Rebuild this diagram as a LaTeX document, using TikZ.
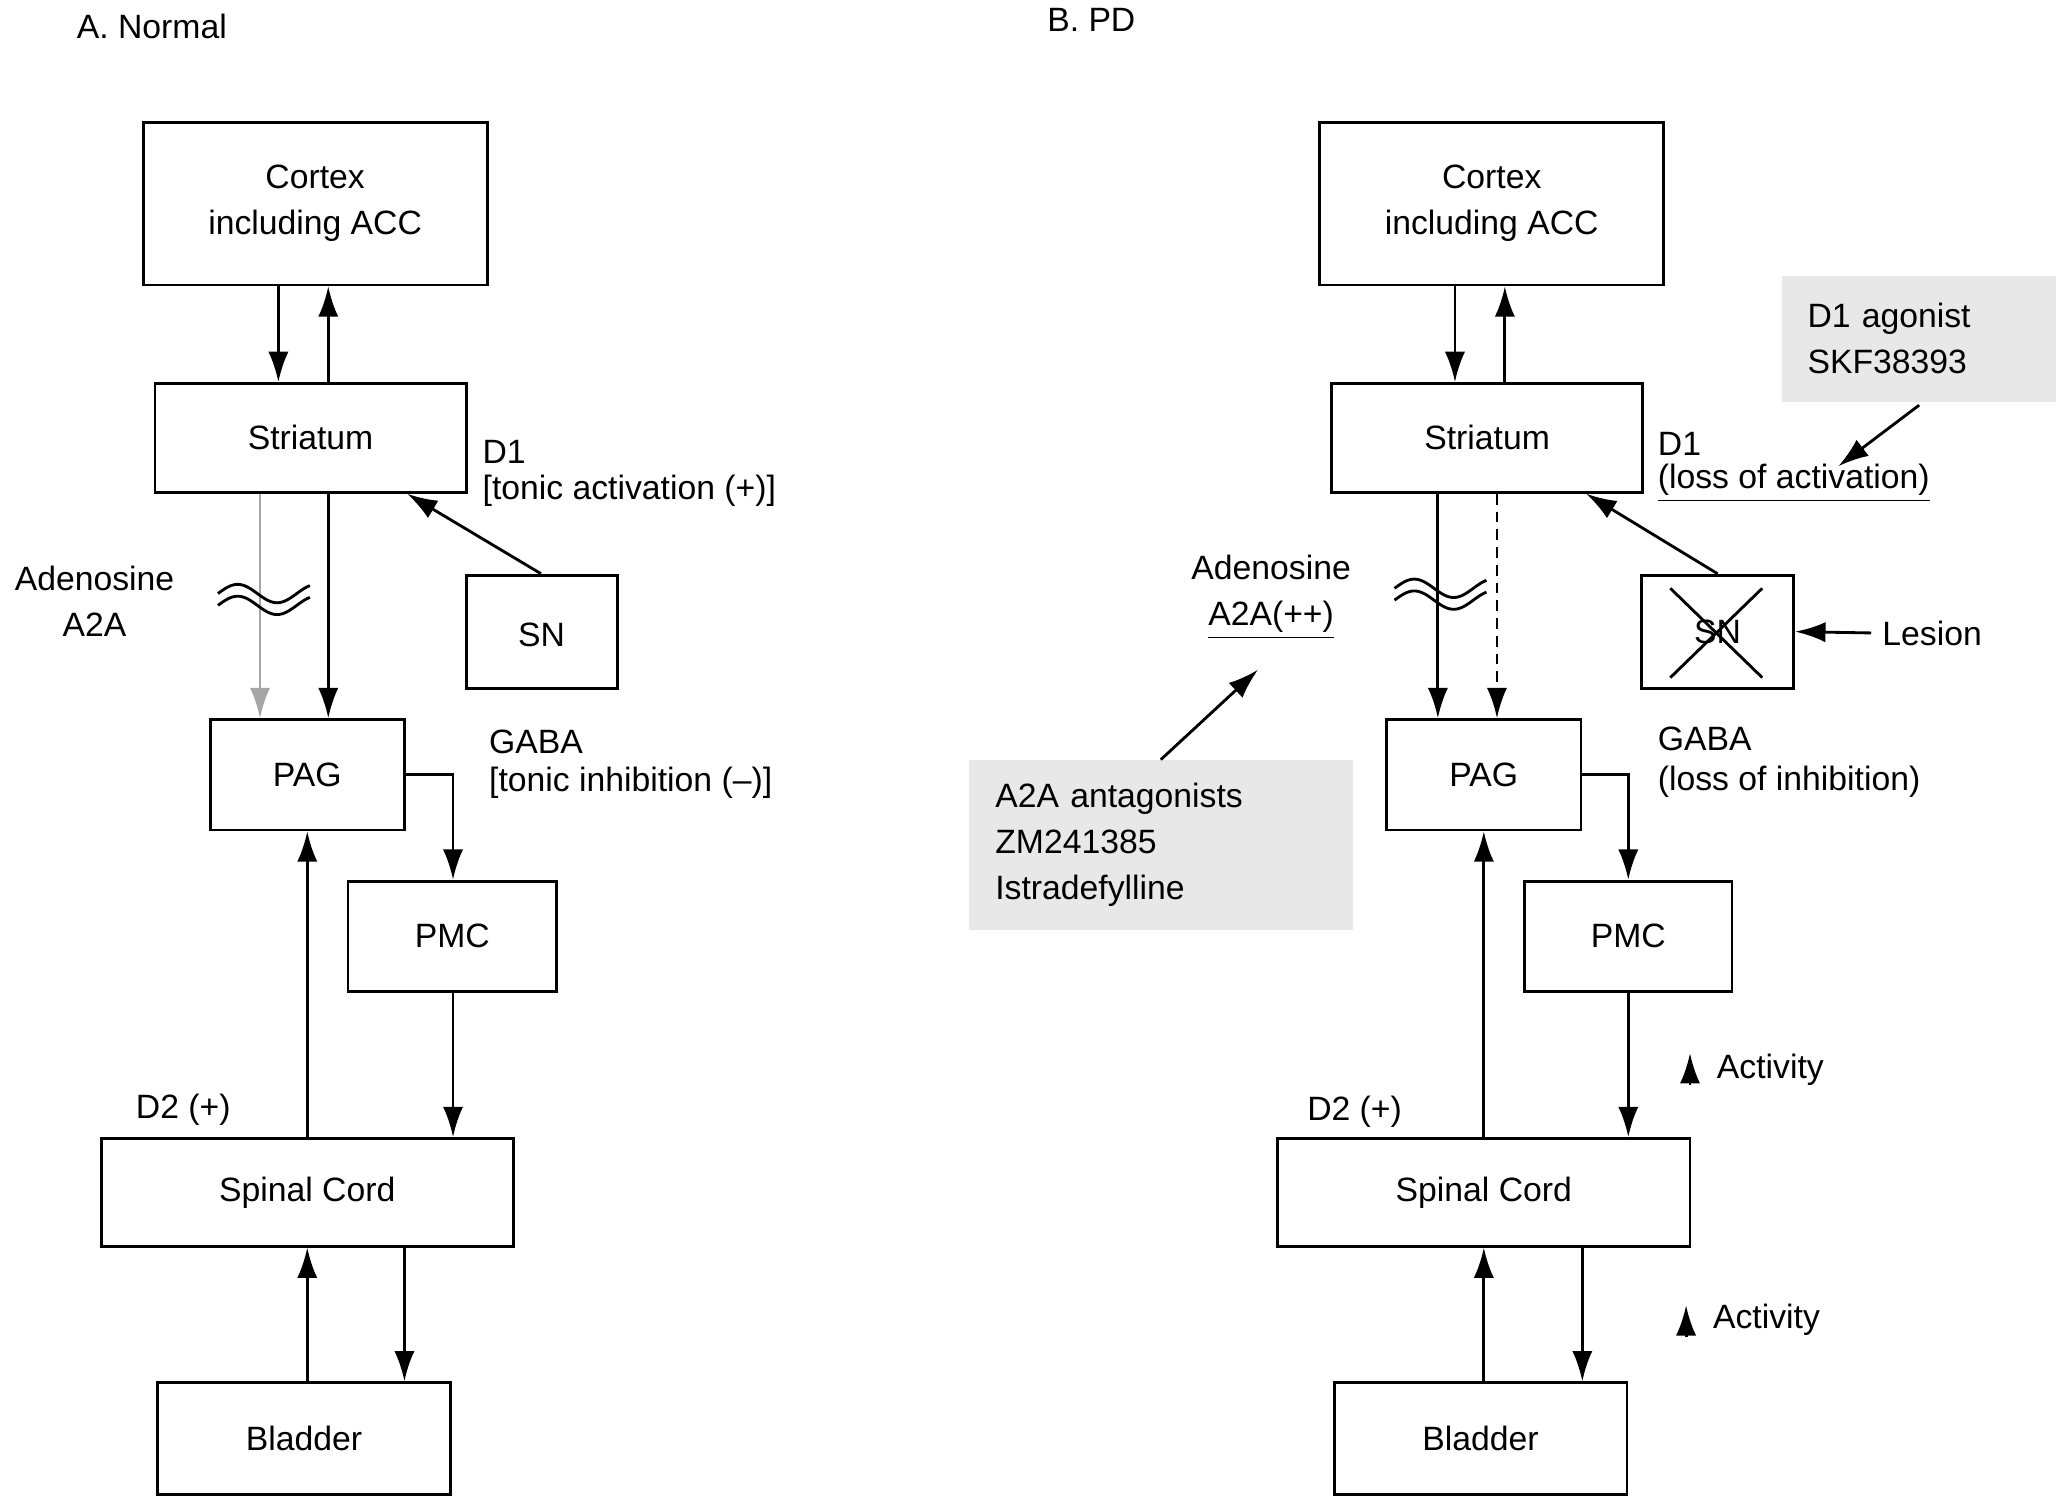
\documentclass[tikz,border=0pt]{standalone}
\usepackage{fontspec}
\setmainfont{Liberation Sans}
\usetikzlibrary{arrows.meta}
\tikzset{
  box/.style={draw,thick,align=center,inner sep=0pt},
  note/.style={fill=gray!18,align=left,inner sep=0pt},
  lab/.style={anchor=west,inner sep=0pt,align=left},
  arr/.style={thick,-{Latex[length=3mm,width=2mm]}},
  tilde/.style={thick,domain=0:70,samples=40}
}
\newcommand{\bx}[6]{\node[box,minimum width={(#4-#2)*0.013cm},minimum height={(#5-#3)*0.013cm}] (#1) at ({(#2+#4)/2},{(#3+#5)/2}) {#6};}
\begin{document}
\begin{tikzpicture}[x=0.013cm,y=-0.013cm,font=\fontsize{9.5}{13}\selectfont]
  \useasboundingbox (0,0) rectangle (1568,1140);

  % A. Normal
  \node[lab] at (58,20) {A. Normal};
  \bx{ctxA}{109}{93}{371}{217}{Cortex\\including ACC}
  \bx{strA}{118}{292}{355}{375}{Striatum}
  \bx{snA}{355}{438}{470}{524}{\raisebox{-3mm}{SN}}
  \bx{pagA}{160}{548}{308}{632}{PAG}
  \bx{pmcA}{265}{671}{424}{755}{PMC}
  \bx{spA}{77}{867}{391}{949}{Spinal Cord}
  \bx{blA}{120}{1053}{343}{1138}{Bladder}

  \draw[arr] (ctxA.south -| 212,0) -- (strA.north -| 212,0);
  \draw[arr] (strA.north -| 250,0) -- (ctxA.south -| 250,0);
  \draw[arr,gray!70] (strA.south -| 198,0) -- (pagA.north -| 198,0);
  \draw[arr] (strA.south -| 250,0) -- (pagA.north -| 250,0);
  \draw[arr] (snA.north -| 412,0) -- (310,376);
  \draw[arr] (pagA.east |- 0,590) -| (pmcA.north -| 345,0);
  \draw[arr] (spA.north -| 234,0) -- (pagA.south -| 234,0);
  \draw[arr] (pmcA.south -| 345,0) -- (spA.north -| 345,0);
  \draw[arr] (spA.south -| 308,0) -- (blA.north -| 308,0);
  \draw[arr] (blA.north -| 234,0) -- (spA.south -| 234,0);
  \draw[tilde] plot ({166+\x},{452-7*sin(\x*6)});
  \draw[tilde] plot ({166+\x},{461-7*sin(\x*6)});

  \node[lab] at (367,344) {D1};
  \node[lab] at (367,374) {[tonic activation (+)]};
  \node[align=center] at (72,458) {Adenosine\\A2A};
  \node[lab] at (372,565) {GABA};
  \node[lab] at (372,596) {[tonic inhibition (--)]};
  \node[lab] at (103,845) {D2 (+)};

  % B. PD
  \node[lab] at (797,15) {B. PD};
  \bx{ctxB}{1005}{93}{1267}{217}{Cortex\\including ACC}
  \bx{strB}{1014}{292}{1251}{375}{Striatum}
  \bx{snB}{1250}{438}{1366}{524}{SN}
  \bx{pagB}{1056}{548}{1204}{632}{PAG}
  \bx{pmcB}{1161}{671}{1319}{755}{PMC}
  \bx{spB}{973}{867}{1287}{949}{Spinal Cord}
  \bx{blB}{1016}{1053}{1239}{1138}{Bladder}
  \node[note,minimum width={209*0.013cm},minimum height={96*0.013cm},text width={170*0.013cm}] (d1ag) at (1461.5,258) {D1 agonist\\SKF38393};
  \node[note,minimum width={292*0.013cm},minimum height={129*0.013cm},text width={252*0.013cm}] (a2ant) at (884,643.5) {A2A antagonists\\ZM241385\\Istradefylline};

  \draw[arr] (ctxB.south -| 1108,0) -- (strB.north -| 1108,0);
  \draw[arr] (strB.north -| 1146,0) -- (ctxB.south -| 1146,0);
  \draw[arr] (strB.south -| 1095,0) -- (pagB.north -| 1095,0);
  \draw[arr,densely dashed] (strB.south -| 1140,0) -- (pagB.north -| 1140,0);
  \draw[arr] (snB.north -| 1308,0) -- (1208,376);
  \draw[thick] (1272,448) -- (1342,516) (1342,448) -- (1272,516);
  \coordinate (lesion) at (1425,482);
  \draw[arr] (lesion) -- (snB.east);
  \coordinate (agtip) at (1400,355);
  \draw[arr] (d1ag.south) ++(0,2) -- (agtip);
  \coordinate (a2tip) at (958,510);
  \draw[arr] (a2ant.north) -- (a2tip);
  \draw[arr] (pagB.east |- 0,590) -| (pmcB.north -| 1240,0);
  \draw[arr] (spB.north -| 1130,0) -- (pagB.south -| 1130,0);
  \draw[arr] (pmcB.south -| 1240,0) -- (spB.north -| 1240,0);
  \draw[arr] (spB.south -| 1205,0) -- (blB.north -| 1205,0);
  \draw[arr] (blB.north -| 1130,0) -- (spB.south -| 1130,0);
  \draw[tilde] plot ({1062+\x},{448-7*sin(\x*6)});
  \draw[tilde] plot ({1062+\x},{457-7*sin(\x*6)});
  \coordinate (act1) at (1287,826);
  \draw[arr] (act1) -- ++(0,-24);
  \coordinate (act2) at (1284,1018);
  \draw[arr] (act2) -- ++(0,-24);

  \node[lab] at (1262,338) {D1};
  \node[lab] at (1262,368) {\underline{(loss of activation)}};
  \node[align=center] at (968,455) {Adenosine\\\underline{A2A(++)}};
  \node[lab] at (1433,482) {Lesion};
  \node[lab] at (1262,563) {GABA};
  \node[lab] at (1262,595) {(loss of inhibition)};
  \node[lab] at (995,847) {D2 (+)};
  \node[lab] at (1307,815) {Activity};
  \node[lab] at (1304,1005) {Activity};
\end{tikzpicture}
\end{document}
